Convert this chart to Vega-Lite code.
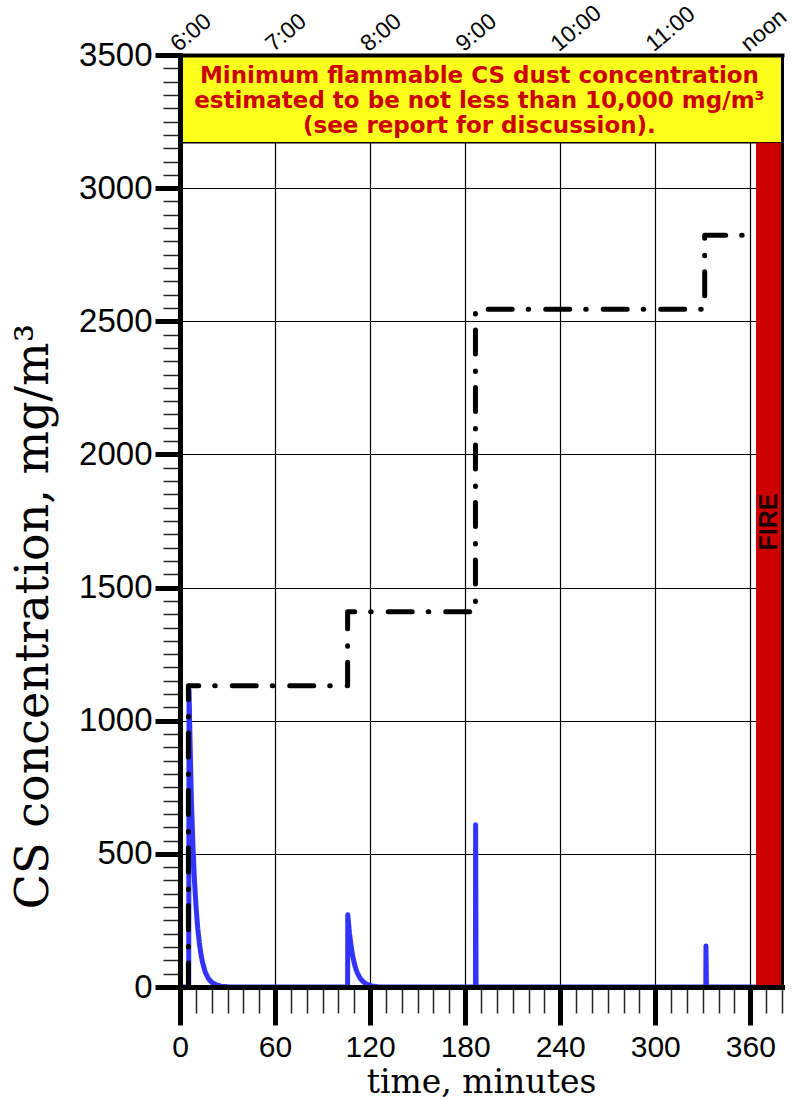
{
  "$schema": "https://vega.github.io/schema/vega-lite/v6.json",
  "width": 602,
  "height": 932,
  "autosize": {"type": "none"},
  "padding": {"left": 180, "top": 55, "right": 14, "bottom": 113},
  "background": "white",
  "config": {"view": {"stroke": null}},
  "datasets": {
    "box": [{"x0": 0, "x1": 380, "y0": 3170, "y1": 3500}],
    "fire": [{"x0": 363.6, "x1": 380, "y0": 0, "y1": 3170}],
    "blue": [
      {"i": 0, "t": 0, "c": 0},
      {"i": 1, "t": 5.5, "c": 0},
      {"i": 2, "t": 5.7, "c": 1115},
      {"i": 3, "t": 6.3, "c": 935},
      {"i": 4, "t": 7.2, "c": 700},
      {"i": 5, "t": 8.2, "c": 525},
      {"i": 6, "t": 9.2, "c": 393},
      {"i": 7, "t": 10.2, "c": 295},
      {"i": 8, "t": 11.2, "c": 221},
      {"i": 9, "t": 12.2, "c": 166},
      {"i": 10, "t": 13.2, "c": 124},
      {"i": 11, "t": 14.2, "c": 93},
      {"i": 12, "t": 16, "c": 55},
      {"i": 13, "t": 18, "c": 31},
      {"i": 14, "t": 20, "c": 18},
      {"i": 15, "t": 23, "c": 8},
      {"i": 16, "t": 26, "c": 3},
      {"i": 17, "t": 30, "c": 1},
      {"i": 18, "t": 35, "c": 0},
      {"i": 19, "t": 105.8, "c": 0},
      {"i": 20, "t": 105.9, "c": 271},
      {"i": 21, "t": 107, "c": 201},
      {"i": 22, "t": 108, "c": 153},
      {"i": 23, "t": 109, "c": 117},
      {"i": 24, "t": 110, "c": 89},
      {"i": 25, "t": 111, "c": 68},
      {"i": 26, "t": 112, "c": 52},
      {"i": 27, "t": 114, "c": 30},
      {"i": 28, "t": 116, "c": 18},
      {"i": 29, "t": 118, "c": 10},
      {"i": 30, "t": 121, "c": 4},
      {"i": 31, "t": 125, "c": 1},
      {"i": 32, "t": 130, "c": 0},
      {"i": 33, "t": 186.5, "c": 0},
      {"i": 34, "t": 186.6, "c": 609},
      {"i": 35, "t": 186.9, "c": 0},
      {"i": 36, "t": 331.9, "c": 0},
      {"i": 37, "t": 332.0, "c": 154},
      {"i": 38, "t": 332.3, "c": 0},
      {"i": 39, "t": 363, "c": 0}
    ],
    "step": [
      {"i": 0, "t": 5.3, "c": 0},
      {"i": 1, "t": 5.3, "c": 1131},
      {"i": 2, "t": 105.8, "c": 1131},
      {"i": 3, "t": 105.8, "c": 1409},
      {"i": 4, "t": 186.5, "c": 1409},
      {"i": 5, "t": 186.5, "c": 2545},
      {"i": 6, "t": 331.2, "c": 2545},
      {"i": 7, "t": 331.2, "c": 2823},
      {"i": 8, "t": 363.5, "c": 2823}
    ],
    "note": [{"x": 189, "y": 3395, "t": "Minimum flammable CS dust concentration\nestimated to be not less than 10,000 mg/m³\n(see report for discussion)."}],
    "firetext": [{"x": 371.5, "y": 1746, "t": "FIRE"}]
  },
  "resolve": {"axis": {"x": "independent", "y": "independent"}},
  "layer": [
    {
      "data": {"name": "box"},
      "mark": {"type": "rect", "fill": "#ffff1e", "stroke": "black", "strokeWidth": 1.5},
      "encoding": {
        "x": {"field": "x0", "type": "quantitative", "scale": {"domain": [0, 380], "nice": false, "zero": false},
          "axis": {"orient": "bottom", "grid": true, "gridColor": "black", "gridWidth": 1.2, "gridOpacity": 1,
            "values": [60, 120, 180, 240, 300, 360], "domain": false, "ticks": false, "labels": false, "title": null, "zindex": 0}},
        "x2": {"field": "x1"},
        "y": {"field": "y0", "type": "quantitative", "scale": {"domain": [0, 3500], "nice": false, "zero": false},
          "axis": {"orient": "left", "grid": true, "gridColor": "black", "gridWidth": 1.2, "gridOpacity": 1,
            "values": [500, 1000, 1500, 2000, 2500, 3000], "domain": false, "ticks": false, "labels": false, "title": null, "zindex": 0}},
        "y2": {"field": "y1"}
      }
    },
    {
      "data": {"name": "fire"},
      "mark": {"type": "rect", "fill": "#cc0000"},
      "encoding": {
        "x": {"field": "x0", "type": "quantitative", "scale": {"domain": [0, 380], "nice": false, "zero": false},
          "axis": {"orient": "bottom", "values": [0, 10, 20, 30, 40, 50, 60, 70, 80, 90, 100, 110, 120, 130, 140, 150, 160, 170, 180, 190, 200, 210, 220, 230, 240, 250, 260, 270, 280, 290, 300, 310, 320, 330, 340, 350, 360, 370, 380],
            "tickSize": 26, "tickWidth": 1.5, "tickColor": "#222222", "labels": false, "domain": false, "grid": false, "title": null, "zindex": 1}},
        "x2": {"field": "x1"},
        "y": {"field": "y0", "type": "quantitative", "scale": {"domain": [0, 3500], "nice": false, "zero": false},
          "axis": {"orient": "left", "values": [0, 50, 100, 150, 200, 250, 300, 350, 400, 450, 500, 550, 600, 650, 700, 750, 800, 850, 900, 950, 1000, 1050, 1100, 1150, 1200, 1250, 1300, 1350, 1400, 1450, 1500, 1550, 1600, 1650, 1700, 1750, 1800, 1850, 1900, 1950, 2000, 2050, 2100, 2150, 2200, 2250, 2300, 2350, 2400, 2450, 2500, 2550, 2600, 2650, 2700, 2750, 2800, 2850, 2900, 2950, 3000, 3050, 3100, 3150, 3200, 3250, 3300, 3350, 3400, 3450, 3500],
            "tickSize": 17, "tickWidth": 1.5, "tickColor": "#222222", "labels": false, "domain": false, "grid": false, "title": null, "zindex": 1}},
        "y2": {"field": "y1"}
      }
    },
    {
      "data": {"name": "blue"},
      "mark": {"type": "line", "color": "#3333ff", "strokeWidth": 5, "strokeJoin": "round", "strokeCap": "round"},
      "encoding": {
        "x": {"field": "t", "type": "quantitative", "scale": {"domain": [0, 380], "nice": false, "zero": false},
          "axis": {"orient": "top", "values": [0, 60, 120, 180, 240, 300, 360],
            "labelExpr": "datum.value == 360 ? 'noon' : (6 + datum.value / 60) + ':00'",
            "labelAngle": -40, "labelAlign": "left", "labelBaseline": "alphabetic",
            "labelFont": "Liberation Sans", "labelFontSize": 23, "labelColor": "black", "labelPadding": 3, "labelOffset": -2,
            "labelFlush": false, "labelOverlap": false, "labelBound": false,
            "ticks": false, "tickSize": 0, "domain": true, "domainWidth": 4, "domainColor": "black", "domainCap": "square",
            "grid": false, "title": null, "zindex": 1}},
        "y": {"field": "c", "type": "quantitative", "scale": {"domain": [0, 3500], "nice": false, "zero": false},
          "axis": {"orient": "right", "domain": true, "domainWidth": 3, "domainColor": "black", "domainCap": "square",
            "ticks": false, "labels": false, "grid": false, "title": null, "zindex": 1}},
        "order": {"field": "i", "type": "quantitative"}
      }
    },
    {
      "data": {"name": "step"},
      "mark": {"type": "line", "color": "black", "strokeWidth": 5, "strokeDash": [24, 16, 0.5, 17], "strokeCap": "round", "strokeJoin": "round"},
      "encoding": {
        "x": {"field": "t", "type": "quantitative", "scale": {"domain": [0, 380], "nice": false, "zero": false},
          "axis": {"orient": "bottom", "values": [0, 60, 120, 180, 240, 300, 360], "format": "d",
            "tickSize": 38, "tickWidth": 5, "tickColor": "black",
            "domainWidth": 5, "domainColor": "black", "domainCap": "square",
            "labelFont": "Liberation Sans", "labelFontSize": 30, "labelColor": "black", "labelPadding": 7,
            "labelFlush": false, "labelOverlap": false,
            "title": "time, minutes", "titleFont": "DejaVu Serif", "titleFontSize": 33, "titleFontWeight": "normal", "titleColor": "black",
            "titleX": 301, "titleY": 105, "titleBaseline": "alphabetic", "titleAlign": "center",
            "grid": false, "zindex": 1}},
        "y": {"field": "c", "type": "quantitative", "scale": {"domain": [0, 3500], "nice": false, "zero": false},
          "axis": {"orient": "left", "values": [0, 500, 1000, 1500, 2000, 2500, 3000, 3500], "format": "d",
            "tickSize": 25, "tickWidth": 5, "tickColor": "black",
            "domainWidth": 5, "domainColor": "black", "domainCap": "square",
            "labelFont": "Liberation Sans", "labelFontSize": 33, "labelColor": "black", "labelPadding": 3, "labelBaseline": "middle",
            "labelFlush": false, "labelOverlap": false,
            "title": "CS concentration, mg/m³", "titleFont": "DejaVu Serif", "titleFontSize": 46, "titleFontWeight": "normal", "titleColor": "black",
            "titleX": -147, "titleY": 561, "titleAngle": 270, "titleBaseline": "middle", "titleAlign": "center",
            "grid": false, "zindex": 1}},
        "order": {"field": "i", "type": "quantitative"}
      }
    },
    {
      "data": {"name": "note"},
      "mark": {"type": "text", "lineBreak": "\n", "font": "DejaVu Sans", "fontWeight": "bold", "fontSize": 23, "color": "#cc0000", "align": "center", "baseline": "alphabetic", "lineHeight": 25},
      "encoding": {
        "x": {"field": "x", "type": "quantitative", "scale": {"domain": [0, 380], "nice": false, "zero": false}, "axis": null},
        "y": {"field": "y", "type": "quantitative", "scale": {"domain": [0, 3500], "nice": false, "zero": false}, "axis": null},
        "text": {"field": "t"}
      }
    },
    {
      "data": {"name": "firetext"},
      "mark": {"type": "text", "font": "Liberation Sans", "fontWeight": "bold", "fontSize": 25, "color": "#1a0000", "align": "center", "baseline": "middle", "angle": 270},
      "encoding": {
        "x": {"field": "x", "type": "quantitative", "scale": {"domain": [0, 380], "nice": false, "zero": false}, "axis": null},
        "y": {"field": "y", "type": "quantitative", "scale": {"domain": [0, 3500], "nice": false, "zero": false}, "axis": null},
        "text": {"field": "t"}
      }
    }
  ]
}
